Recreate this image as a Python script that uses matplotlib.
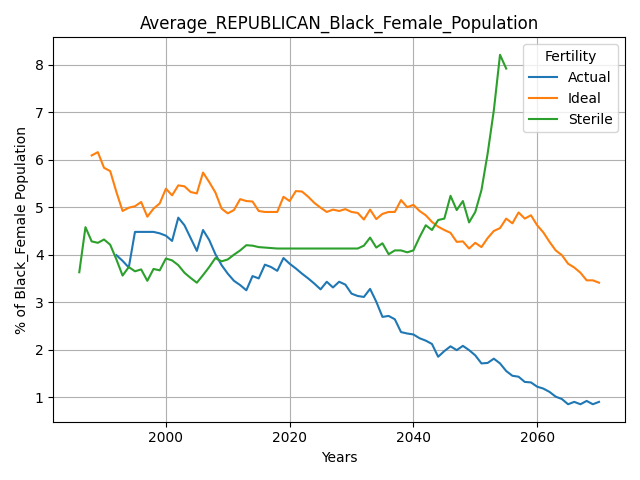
import matplotlib
matplotlib.use("Agg")
import matplotlib.pyplot as plt

# Actual: 1992-2070
actual_years = list(range(1992, 2071))
actual = [3.99, 3.87, 3.73, 4.48, 4.48, 4.48, 4.48, 4.45, 4.40, 4.29,
          4.78, 4.62, 4.35, 4.08, 4.52, 4.31, 4.01, 3.78, 3.60, 3.45,
          3.36, 3.25, 3.55, 3.50, 3.79, 3.74, 3.66, 3.93, 3.81, 3.71,
          3.60, 3.50, 3.39, 3.27, 3.43, 3.31, 3.43, 3.37, 3.18, 3.13,
          3.11, 3.28, 3.01, 2.69, 2.71, 2.64, 2.37, 2.34, 2.32, 2.24,
          2.19, 2.12, 1.85, 1.97, 2.07, 1.99, 2.08, 1.99, 1.88, 1.71,
          1.72, 1.81, 1.71, 1.55, 1.45, 1.43, 1.32, 1.31, 1.22, 1.18,
          1.11, 1.01, 0.96, 0.85, 0.90, 0.85, 0.92, 0.85, 0.90]

# Ideal: 1988-2070
ideal_years = list(range(1988, 2071))
ideal = [6.09, 6.16, 5.83, 5.76, 5.32, 4.92, 4.99, 5.02, 5.11, 4.80,
         4.97, 5.08, 5.39, 5.25, 5.46, 5.44, 5.32, 5.29, 5.73, 5.53,
         5.31, 4.97, 4.87, 4.94, 5.17, 5.13, 5.12, 4.92, 4.90, 4.90,
         4.90, 5.22, 5.13, 5.34, 5.33, 5.22, 5.09, 4.99, 4.90, 4.95,
         4.92, 4.96, 4.90, 4.88, 4.74, 4.95, 4.75, 4.86, 4.90, 4.90,
         5.15, 5.00, 5.05, 4.92, 4.83, 4.69, 4.59, 4.52, 4.46, 4.27,
         4.28, 4.13, 4.25, 4.16, 4.35, 4.50, 4.56, 4.76, 4.66, 4.89,
         4.76, 4.83, 4.62, 4.47, 4.27, 4.09, 3.99, 3.81, 3.73, 3.62,
         3.46, 3.46, 3.41]

# Sterile: 1986-2055
sterile_years = list(range(1986, 2056))
sterile = [3.63, 4.58, 4.28, 4.25, 4.32, 4.21, 3.90, 3.56, 3.74, 3.65,
           3.69, 3.45, 3.70, 3.67, 3.92, 3.88, 3.78, 3.62, 3.51, 3.41,
           3.57, 3.74, 3.93, 3.86, 3.90, 4.00, 4.09, 4.20, 4.19, 4.16,
           4.15, 4.14, 4.13, 4.13, 4.13, 4.13, 4.13, 4.13, 4.13, 4.13,
           4.13, 4.13, 4.13, 4.13, 4.13, 4.13, 4.19, 4.36, 4.15, 4.24,
           4.01, 4.09, 4.09, 4.05, 4.09, 4.37, 4.62, 4.52, 4.73, 4.76,
           5.24, 4.94, 5.13, 4.68, 4.90, 5.36, 6.13, 7.04, 8.21, 7.92]

fig, ax = plt.subplots(figsize=(6.4, 4.8), dpi=100)
ax.plot(actual_years, actual, label="Actual")
ax.plot(ideal_years, ideal, label="Ideal")
ax.plot(sterile_years, sterile, label="Sterile")
ax.set_title("Average_REPUBLICAN_Black_Female_Population")
ax.set_xlabel("Years")
ax.set_ylabel("% of Black_Female Population")
ax.legend(title="Fertility")
ax.grid(True)
fig.tight_layout()
fig.savefig("out.png")
